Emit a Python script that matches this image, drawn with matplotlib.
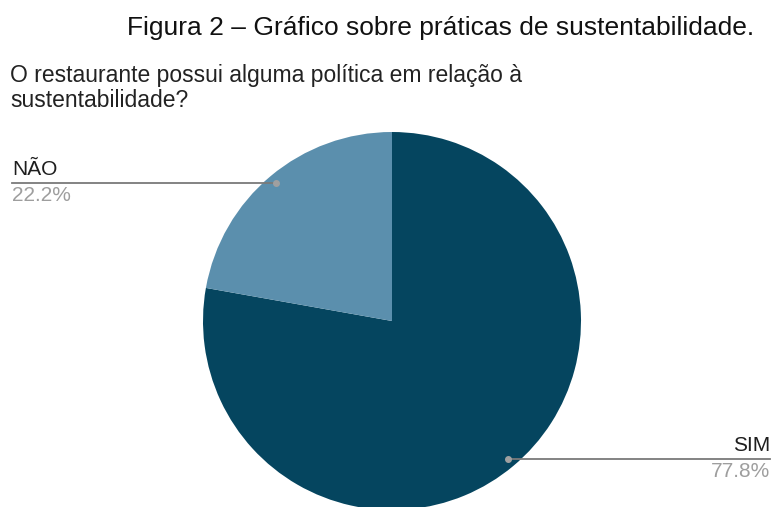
import numpy as np
import matplotlib.pyplot as plt

W, H = 773, 507

categories = ['SIM', 'NÃO']
values = [77.8, 22.2]
colors = ['#05455f', '#5b8fad']

TITLE = 'Figura 2 – Gráfico sobre práticas de sustentabilidade.'
QUESTION = 'O restaurante possui alguma política em relação à\nsustentabilidade?'

plt.rcParams['font.family'] = ['Liberation Sans', 'DejaVu Sans']

fig = plt.figure(figsize=(W / 100, H / 100), dpi=100)
ax = fig.add_axes([0, 0, 1, 1])

cx, cy, r = 392, H - 321, 189
wedges, _ = ax.pie(values, colors=colors, startangle=90, counterclock=False,
                   center=(cx, cy), radius=r, frame=True)
ax.set_xlim(0, W)
ax.set_ylim(0, H)
ax.set_aspect('equal')
ax.set_axis_off()

# leader lines with a dot inside each slice
for w, name, v in zip(wedges, categories, values):
    mid = np.deg2rad((w.theta1 + w.theta2) / 2)
    px = cx + 0.955 * r * np.cos(mid)
    py = cy + 0.955 * r * np.sin(mid)
    if np.cos(mid) < 0:
        x_end, ha = 12, 'left'
    else:
        x_end, ha = 770, 'right'
    ax.plot([px, x_end], [py, py], color='#7a7a7a', lw=1.3, zorder=3)
    ax.plot(px, py, 'o', color='#a0a0a0', ms=4, zorder=4)
    ax.text(x_end, py + 4, name, ha=ha, va='bottom', fontsize=15, color='#1e1e1e')
    ax.text(x_end, py - 3, f'{v}%', ha=ha, va='top', fontsize=15, color='#9e9e9e')

fig.text(441 / W, 1 - 28 / H, TITLE, ha='center', va='center', fontsize=19, color='#111111')
fig.text(10 / W, 1 - 64 / H, QUESTION, ha='left', va='top', fontsize=16.5,
         color='#222222', linespacing=1.1)

fig.savefig('out.png', dpi=100, facecolor='white')
